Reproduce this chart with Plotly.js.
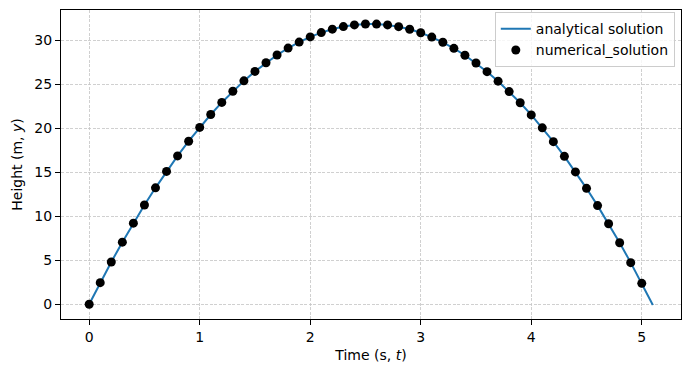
<!DOCTYPE html>
<html>
<head>
<meta charset="utf-8">
<script src="https://cdn.plot.ly/plotly-3.0.1.min.js"></script>
<style>html,body{margin:0;padding:0;background:#fff;}#chart{width:691px;height:374px;}</style>
</head>
<body>
<div id="chart"></div>
<script>
const timeAnalytical = [0,0.1,0.2,0.3,0.4,0.5,0.6,0.7,0.8,0.9,1.0,1.1,1.2,1.3,1.4,1.5,1.6,1.7,1.8,1.9,2.0,2.1,2.2,2.3,2.4,2.5,2.6,2.7,2.8,2.9,3.0,3.1,3.2,3.3,3.4,3.5,3.6,3.7,3.8,3.9,4.0,4.1,4.2,4.3,4.4,4.5,4.6,4.7,4.8,4.9,5.0,5.1];
const heightAnalytical = [0,2.451,4.804,7.059,9.215,11.274,13.234,15.097,16.861,18.527,20.095,21.565,22.937,24.211,25.386,26.464,27.443,28.325,29.108,29.793,30.38,30.869,31.26,31.553,31.747,31.844,31.842,31.743,31.545,31.249,30.855,30.363,29.773,29.085,28.298,27.414,26.431,25.351,24.172,22.895,21.52,20.047,18.476,16.807,15.039,13.174,11.21,9.149,6.989,4.731,2.375,-0.079];
const timeNumerical = [0,0.1,0.2,0.3,0.4,0.5,0.6,0.7,0.8,0.9,1.0,1.1,1.2,1.3,1.4,1.5,1.6,1.7,1.8,1.9,2.0,2.1,2.2,2.3,2.4,2.5,2.6,2.7,2.8,2.9,3.0,3.1,3.2,3.3,3.4,3.5,3.6,3.7,3.8,3.9,4.0,4.1,4.2,4.3,4.4,4.5,4.6,4.7,4.8,4.9,5.0];
const heightNumerical = [0,2.451,4.804,7.059,9.215,11.274,13.234,15.097,16.861,18.527,20.095,21.565,22.937,24.211,25.386,26.464,27.443,28.325,29.108,29.793,30.38,30.869,31.26,31.553,31.747,31.844,31.842,31.743,31.545,31.249,30.855,30.363,29.773,29.085,28.298,27.414,26.431,25.351,24.172,22.895,21.52,20.047,18.476,16.807,15.039,13.174,11.21,9.149,6.989,4.731,2.375];
const xTicks = [0,1,2,3,4,5];
const yTicks = [0,5,10,15,20,25,30];

const traces = [
  {x: timeAnalytical, y: heightAnalytical, mode: 'lines', name: 'analytical solution',
   line: {color: '#1f77b4', width: 2}},
  {x: timeNumerical, y: heightNumerical, mode: 'markers', name: 'numerical_solution',
   marker: {color: '#000000', size: 9}}
];

const axisCommon = {
  showline: true, mirror: true, linecolor: '#000', linewidth: 1,
  ticks: 'outside', ticklen: 5, tickwidth: 1, tickcolor: '#000',
  showgrid: true, gridcolor: '#c4c4c4', gridwidth: 0.8, griddash: '3px,1.5px',
  zeroline: false, tickfont: {family: 'DejaVu Sans', size: 14, color: '#000'}
};

const layout = {
  width: 691, height: 374,
  margin: {l: 61, r: 10, t: 10, b: 55},
  paper_bgcolor: '#fff', plot_bgcolor: '#fff',
  font: {family: 'DejaVu Sans', size: 14, color: '#000'},
  xaxis: Object.assign({}, axisCommon, {
    range: [-0.255, 5.355], tickvals: xTicks, ticktext: xTicks.map(String),
    title: {text: 'Time (s, <i>t</i>)', font: {family: 'DejaVu Sans', size: 14}, standoff: 6}
  }),
  yaxis: Object.assign({}, axisCommon, {
    range: [-1.675, 33.44], tickvals: yTicks, ticktext: yTicks.map(String),
    title: {text: 'Height (m, <i>y</i>)', font: {family: 'DejaVu Sans', size: 14}, standoff: 8}
  }),
  legend: {x: 0.99, xanchor: 'right', y: 0.993, yanchor: 'top',
    bgcolor: 'rgba(255,255,255,0.8)', bordercolor: '#cccccc', borderwidth: 1,
    font: {family: 'DejaVu Sans', size: 14}, tracegroupgap: 0},
  showlegend: true
};

Plotly.newPlot('chart', traces, layout, {displayModeBar: false, staticPlot: true});
</script>
</body>
</html>
